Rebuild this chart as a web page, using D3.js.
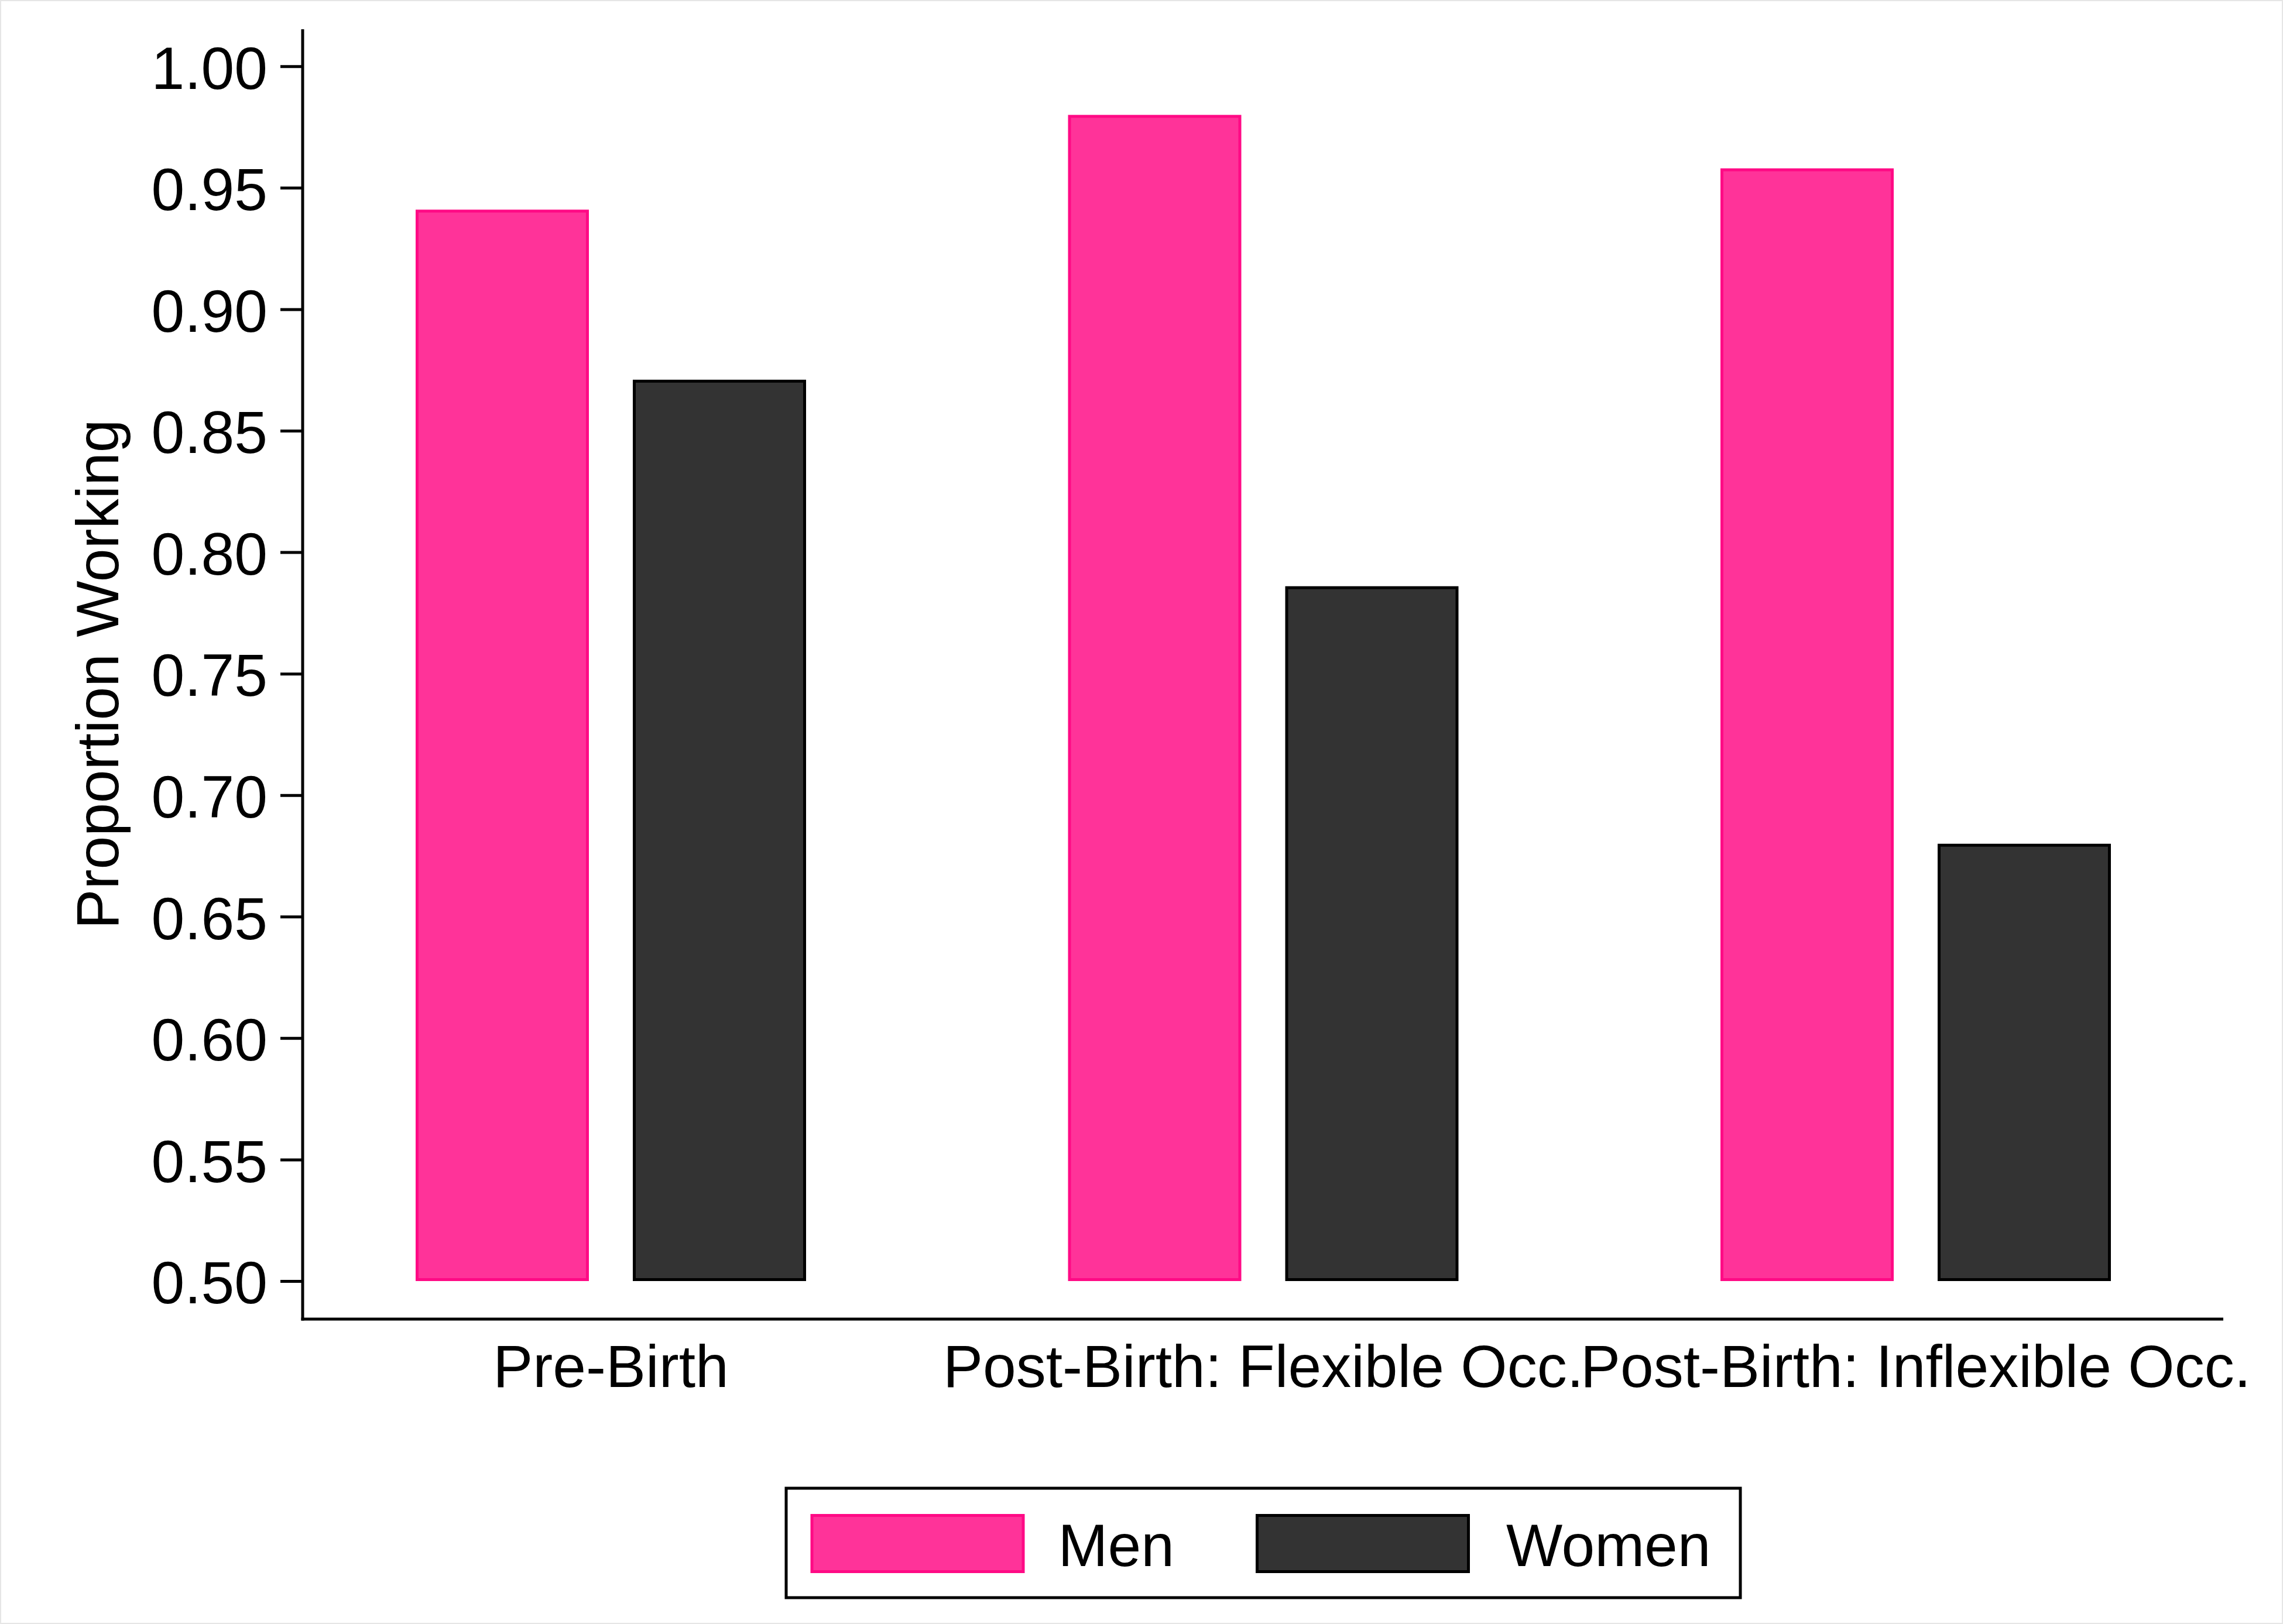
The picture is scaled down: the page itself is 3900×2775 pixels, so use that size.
<!DOCTYPE html>
<html>
<head>
<meta charset="utf-8">
<script src="https://cdn.jsdelivr.net/npm/d3@7"></script>
<style>
  html, body { margin: 0; padding: 0; background: #fff; }
  svg { display: block; }
  text { font-family: "Liberation Sans", Arial, sans-serif; fill: #000; }
</style>
</head>
<body>
<script>
// ---- Data ----
const categories = ["Pre-Birth", "Post-Birth: Flexible Occ.", "Post-Birth: Inflexible Occ."];
const seriesNames = ["Men", "Women"];
const menValues = [0.941, 0.980, 0.958];
const womenValues = [0.871, 0.786, 0.680];
const yTickValues = [0.50, 0.55, 0.60, 0.65, 0.70, 0.75, 0.80, 0.85, 0.90, 0.95, 1.00];
const yLabel = "Proportion Working";

// ---- Styles ----
const fills = { Men: "#ff3399", Women: "#333333" };
const strokes = { Men: "#ff0a85", Women: "#000000" };
const W = 3900, H = 2775;
const fontSize = 102;
const sw = 5;

// ---- Layout ----
const axisX = 517, axisTop = 50, axisBottomY = 2254, axisRight = 3798;

const svg = d3.select("body").append("svg")
  .attr("width", W).attr("height", H)
  .attr("viewBox", `0 0 ${W} ${H}`);

svg.append("rect").attr("x", 1).attr("y", 1).attr("width", W - 2).attr("height", H - 2)
  .attr("fill", "#fff").attr("stroke", "#e6e6e6").attr("stroke-width", 2);

const y = d3.scaleLinear().domain([0.5, 1.0]).range([2189, 113.3]);

const x0 = d3.scaleBand().domain(categories).range([486.25, 3829.75]).padding(0);
const step = x0.bandwidth();
const x1 = d3.scaleBand().domain(seriesNames)
  .range([step / 2 - 371, step / 2 + 371])
  .paddingInner(0.2022).paddingOuter(0.1011);

// bars
const rows = categories.map((c, i) => ({ cat: c, Men: menValues[i], Women: womenValues[i] }));
const groups = svg.append("g").selectAll("g").data(rows).join("g")
  .attr("transform", d => `translate(${x0(d.cat)},0)`);
groups.selectAll("rect")
  .data(d => seriesNames.map(s => ({ s, v: d[s] })))
  .join("rect")
  .attr("x", d => x1(d.s) + sw / 2)
  .attr("width", x1.bandwidth() - sw)
  .attr("y", d => y(d.v) + sw / 2)
  .attr("height", d => y(0.5) - y(d.v) - sw)
  .attr("fill", d => fills[d.s])
  .attr("stroke", d => strokes[d.s])
  .attr("stroke-width", sw);

// y axis
const yAxis = d3.axisLeft(y).tickValues(yTickValues).tickSize(38).tickPadding(22)
  .tickFormat(d3.format(".2f"));
const gy = svg.append("g").attr("transform", `translate(${axisX},0)`).call(yAxis);
gy.select(".domain").remove();
gy.selectAll(".tick line").attr("stroke", "#000").attr("stroke-width", 5);
gy.selectAll(".tick text").attr("font-size", fontSize).attr("dy", "0.37em")
  .attr("font-family", "Liberation Sans, Arial, sans-serif").attr("fill", "#000");

// axis lines
svg.append("line").attr("x1", axisX).attr("x2", axisX).attr("y1", axisTop).attr("y2", axisBottomY + 2.5)
  .attr("stroke", "#000").attr("stroke-width", 5);
svg.append("line").attr("x1", axisX - 2.5).attr("x2", axisRight).attr("y1", axisBottomY).attr("y2", axisBottomY)
  .attr("stroke", "#000").attr("stroke-width", 5);

// x axis labels
const xAxis = d3.axisBottom(x0).tickSize(0).tickPadding(0);
const gx = svg.append("g").attr("transform", `translate(0,${axisBottomY})`).call(xAxis);
gx.select(".domain").remove();
gx.selectAll(".tick text").attr("font-size", fontSize).attr("y", 116).attr("dy", 0)
  .attr("font-family", "Liberation Sans, Arial, sans-serif").attr("fill", "#000");

// y label
svg.append("text")
  .attr("transform", `translate(202,1152) rotate(-90)`)
  .attr("text-anchor", "middle")
  .attr("font-size", fontSize)
  .text(yLabel);

// legend
const leg = svg.append("g");
leg.append("rect").attr("x", 1343).attr("y", 2543).attr("width", 1630).attr("height", 187)
  .attr("fill", "#fff").attr("stroke", "#000").attr("stroke-width", 5);
const legX = d3.scaleOrdinal().domain(seriesNames).range([1384.5, 2145]);
const li = leg.selectAll("g.item").data(seriesNames).join("g").attr("class", "item")
  .attr("transform", d => `translate(${legX(d)},2587)`);
li.append("rect").attr("x", sw / 2).attr("y", sw / 2).attr("width", 366 - sw).attr("height", 101 - sw)
  .attr("fill", d => fills[d]).attr("stroke", d => strokes[d]).attr("stroke-width", sw);
li.append("text").attr("x", d => d === "Men" ? 423 : 428).attr("y", 89)
  .attr("font-size", fontSize).text(d => d);
</script>
</body>
</html>
